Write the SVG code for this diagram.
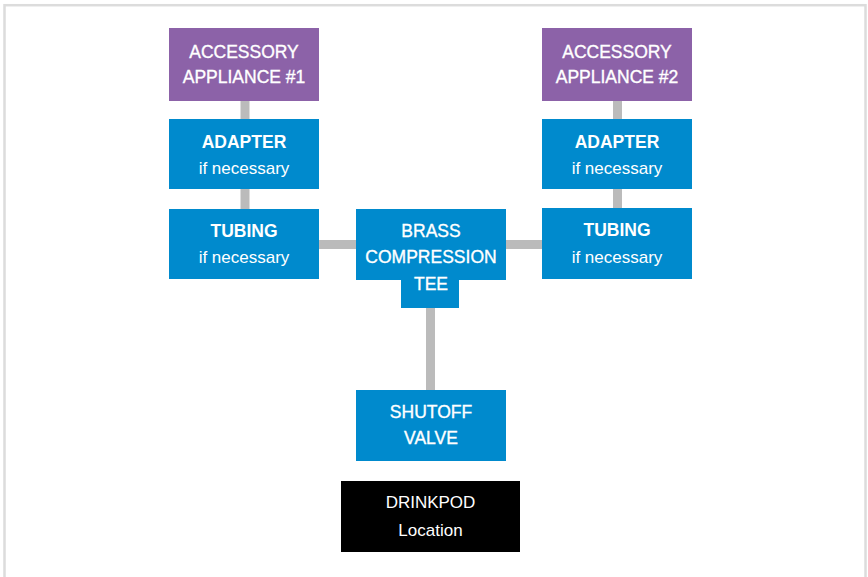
<svg xmlns="http://www.w3.org/2000/svg" width="868" height="577" viewBox="0 0 868 577">
<style>
.frame{fill:#fff;stroke:#dcdcdc;stroke-width:2.5}
.purple{fill:#8c62a8}
.blue{fill:#008acd}
.black{fill:#000}
.conn{stroke:#bbbbbb;stroke-width:9;fill:none}
text{font-family:"Liberation Sans",Arial,sans-serif;fill:#fff;text-anchor:middle}
.t{font-size:17.5px;stroke:#fff;stroke-width:0.35}
.b{font-size:17.5px;font-weight:bold}
.s{font-size:17px}
</style>
<rect class="frame" x="4.5" y="5.2" width="861" height="600"/>
<g id="connectors">
<line class="conn" x1="245" y1="101" x2="245" y2="119"/>
<line class="conn" x1="245" y1="189" x2="245" y2="209"/>
<line class="conn" x1="617.5" y1="101" x2="617.5" y2="119"/>
<line class="conn" x1="617.5" y1="189" x2="617.5" y2="208"/>
<line class="conn" x1="319" y1="244.5" x2="356" y2="244.5"/>
<line class="conn" x1="506" y1="244.5" x2="542" y2="244.5"/>
<line class="conn" x1="430.5" y1="308" x2="430.5" y2="390"/>
</g>
<g id="accessory1">
<rect class="purple" x="169" y="28" width="150" height="73"/>
<text class="t" x="244" y="58">ACCESSORY</text>
<text class="t" x="244" y="83">APPLIANCE #1</text>
</g>
<g id="adapter1">
<rect class="blue" x="169" y="119" width="150" height="70"/>
<text class="b" x="244" y="148">ADAPTER</text>
<text class="s" x="244" y="174">if necessary</text>
</g>
<g id="tubing1">
<rect class="blue" x="169" y="209" width="150" height="70"/>
<text class="b" x="244" y="237">TUBING</text>
<text class="s" x="244" y="263">if necessary</text>
</g>
<g id="accessory2">
<rect class="purple" x="542" y="28" width="150" height="73"/>
<text class="t" x="617" y="58">ACCESSORY</text>
<text class="t" x="617" y="83">APPLIANCE #2</text>
</g>
<g id="adapter2">
<rect class="blue" x="542" y="119" width="150" height="70"/>
<text class="b" x="617" y="148">ADAPTER</text>
<text class="s" x="617" y="174">if necessary</text>
</g>
<g id="tubing2">
<rect class="blue" x="542" y="208" width="150" height="71"/>
<text class="b" x="617" y="236">TUBING</text>
<text class="s" x="617" y="263">if necessary</text>
</g>
<g id="tee">
<rect class="blue" x="356" y="209" width="150" height="71"/>
<rect class="blue" x="401" y="279" width="58" height="29"/>
<text class="t" x="431" y="237">BRASS</text>
<text class="t" x="431" y="263">COMPRESSION</text>
<text class="t" x="431" y="290">TEE</text>
</g>
<g id="shutoff">
<rect class="blue" x="356" y="390" width="150" height="71"/>
<text class="t" x="431" y="418">SHUTOFF</text>
<text class="t" x="431" y="444">VALVE</text>
</g>
<g id="drinkpod">
<rect class="black" x="341" y="481" width="179" height="71"/>
<text class="s" x="430.5" y="508">DRINKPOD</text>
<text class="s" x="430.5" y="536">Location</text>
</g>
</svg>
